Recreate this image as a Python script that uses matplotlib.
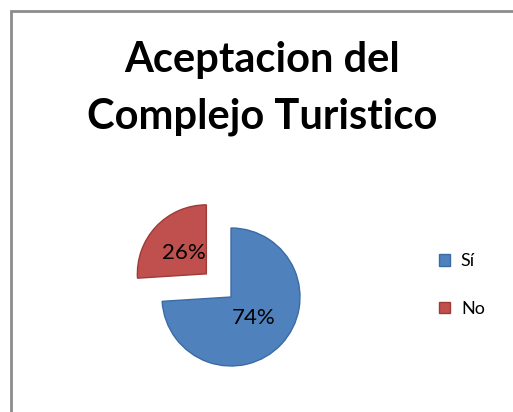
import matplotlib
matplotlib.use('Agg')
import matplotlib.pyplot as plt
from matplotlib.patches import Rectangle

# data
categorias = ['Sí', 'No']
valores = [74, 26]
colores = ['#4F81BD', '#C0504D']
bordes = ['#3B6BA5', '#9E3B39']
titulo = ['Aceptacion del', 'Complejo Turistico']

plt.rcParams['font.family'] = ['Lato', 'DejaVu Sans']

W, H = 513, 412
fig = plt.figure(figsize=(W / 100, H / 100), dpi=100)

# chart frame (left/top edges visible, right/bottom cut off)
fig.patches.append(Rectangle((11 / W, -0.05), 1.1, 1 - 11 / H + 0.05,
                             transform=fig.transFigure, fill=False,
                             edgecolor='#8c8c8c', linewidth=2))

# title, one text per line (baselines at 72 and 128 px)
for linea, base in zip(titulo, [72, 128]):
    fig.text(262 / W, 1 - base / H, linea, ha='center', va='baseline',
             fontsize=30, fontweight='bold')

# pie axes: center at (231, 297) px, radius 69 px
r = 69
L = 2.2
cx, cy = 231, 297
ax = fig.add_axes([(cx - L * r) / W, 1 - (cy + L * r) / H, 2 * L * r / W, 2 * L * r / H])

wedges, textos, pcts = ax.pie(valores, colors=colores, startangle=90, counterclock=False,
                              explode=[0, 0.49], autopct='%1.0f%%', pctdistance=0.45,
                              textprops={'fontsize': 16, 'color': 'black'})
for w, b in zip(wedges, bordes):
    w.set_edgecolor(b)
    w.set_linewidth(1)
ax.set_xlim(-L, L)
ax.set_ylim(-L, L)
ax.axis('off')

fig.legend(wedges, categorias, loc='center left', bbox_to_anchor=(432 / W, 1 - 285 / H),
           frameon=False, fontsize=13, handlelength=0.6, handleheight=0.6,
           handletextpad=0.6, labelspacing=1.75, borderaxespad=0)

fig.savefig('out.png', dpi=100)
